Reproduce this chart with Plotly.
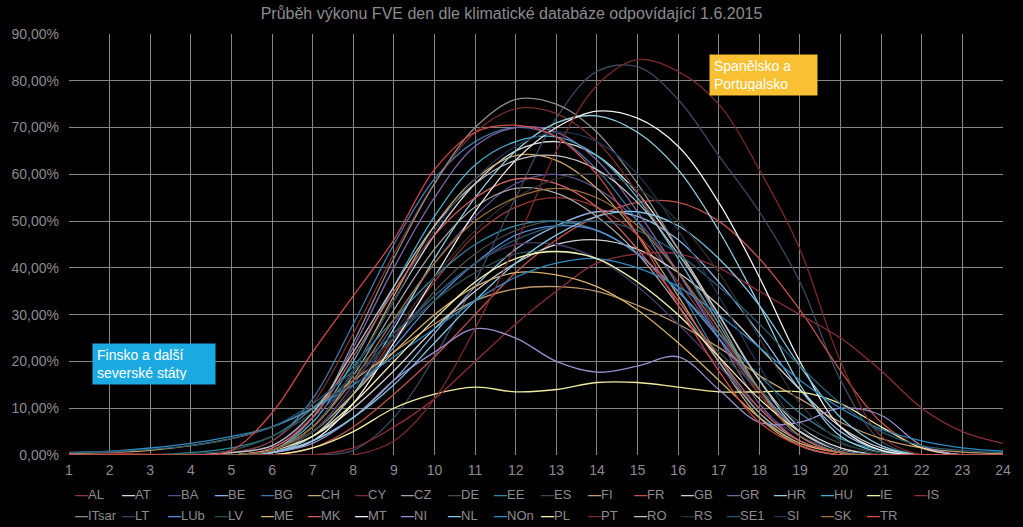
import plotly.graph_objects as go

hours = list(range(1, 25))

names = ["AL", "AT", "BA", "BE", "BG", "CH", "CY", "CZ", "DE", "EE", "ES", "FI", "FR",
         "GB", "GR", "HR", "HU", "IE", "IS", "ITsar", "LT", "LUb", "LV", "ME", "MK",
         "MT", "NI", "NL", "NOn", "PL", "PT", "RO", "RS", "SE1", "SI", "SK", "TR"]

# hourly output in % of installed power (hours 1..24)
AL = [0,0,0,0,0,0.5,4,13,25,37,47,53,55,53,47,37,25,13,5,1,0,0,0,0]
AT = [0,0,0,0,0,1,6,18,33,47,58,65,67,64,56,44,30,16,6,1.5,0,0,0,0]
BA = [0,0,0,0,0,0.5,5,15,28,41,51,58,60,57,50,39,26,14,5,1,0,0,0,0]
BE = [0,0,0,0,0,0.5,3,8,16,26,36,44,49,52,51,46,37,26,14,5,1,0,0,0]
BG = [0,0,0,0,0.5,3,12,28,45,59,67,70,68,61,50,36,21,9,2,0,0,0,0,0]
CH = [0,0,0,0,0,1,6,18,34,49,59,64,63,57,47,34,20,8,2,0,0,0,0,0]
CY = [0,0,0,0,0.5,3,11,26,43,58,69,74,73,67,56,42,27,13,4,0.5,0,0,0,0]
CZ = [0,0,0,0,0,1,6,17,31,44,53,57,56,51,43,32,20,9,3,0.5,0,0,0,0]
DE = [0,0,0,0,0,1,5,13,24,35,43,48,50,48,43,35,25,14,5,1,0,0,0,0]
EE = [0,0,0,0.5,1.5,4,10,19,29,38,45,49,50,48,43,35,26,17,9,3.5,1,0,0,0]
ES = [0,0,0,0,0,0,0,1,8,21,37,55,72,82,83,76,64,52,37,16,3,0,0,0]
FI = [0.3,0.5,1,2,3.5,6,10,16,22,28,33,35.5,36,35,32,28,23,17,12,7,3.5,1.5,0.6,0.3]
FR = [0,0,0,0,0,0,1.5,6,13,21,30,39,46,51,54,54,50,42,31,18,7,1.5,0,0]
GB = [0,0,0,0,0,1,4,10,18,27,35,41,45,46,44,39,32,23,14,6,1.5,0,0,0]
GR = [0,0,0,0,0,1.5,8,23,40,55,66,70,69,63,52,39,25,11,3,0.5,0,0,0,0]
HR = [0,0,0,0,0,0.5,4,13,27,42,55,65,71,72.5,69,61,48,32,15,4,0.5,0,0,0]
HU = [0,0,0,0,0,1,7,20,36,51,62,67,68,64,55,42,28,14,4,0.5,0,0,0,0]
IE = [0,0,0,0,0,0,1.5,5,10,13,14.5,13.5,14,15.5,15.5,14.5,13.5,13.5,13.5,11,6,1.5,0,0]
IS = [0.6,0.4,0.2,0,0,0,0,1.5,6,12,20,28,35,41,43,43,40,35,30,25,18,10,5,2.5]
ITsar = [0,0,0,0,0,1,8,24,42,58,70,76,75,69,58,44,29,14,4,0.5,0,0,0,0]
LT = [0,0,0,0,0.5,2,8,16,25,34,41,45,45,42,36,28,19,10,4,1,0,0,0,0]
LUb = [0,0,0,0,0,1,5,13,23,33,41,47,49,48,43,35,25,14,5,1,0,0,0,0]
LV = [0,0,0,0.3,1,4,9,17,25,33,39,43,43.5,42,37,30,22,14,7,2.5,0.5,0,0,0]
ME = [0,0,0,0,0,1,5,13,22,30,36,39,38.5,36,31,24,16,8,2.5,0.5,0,0,0,0]
MK = [0,0,0,0,0,1.5,8,21,35,47,55,59,58,53,44,33,21,10,3,0.5,0,0,0,0]
MT = [0,0,0,0,0,0.5,3,11,24,38,52,63,70,73.5,72,66,54,38,20,6,1,0,0,0]
NI = [0,0,0,0,0,0.5,2.5,8,16,22,27,25,20,17.7,19,21,14,7,7,10,8.5,2,0,0]
NL = [0,0,0,0,0,0.5,3,8,15,24,33,41,47,51,52,49,42,32,19,8,2,0,0,0]
NOn = [0.5,0.8,1.5,2.5,4,6,10,15,21,27,33,38,41,42,40,36,30,23,16,10,5.5,3,1.5,0.8]
PL = [0,0,0,0,0,1,4,11,20,29,37,42,43.5,42,37,30,21,12,5,1,0,0,0,0]
PT = [0,0,0,0,0,0,0,0,3,12,27,45,65,79,84.5,82,75,61,44,20,4,0,0,0]
RO = [0,0,0,0,0.5,2,9,22,36,49,58,63,64,61,54,43,30,16,5,1,0,0,0,0]
RS = [0,0,0,0,0,1,5,14,26,38,48,55,59,60,57,50,39,25,11,3,0,0,0,0]
SE1 = [0.5,0.7,1.2,2,3.5,6,11,18,26,34,41,46,49,50,48,43,36,28,19,11,5,2,1,0.5]
SI = [0,0,0,0,0,1,6,18,33,48,59,66,69,67,60,48,34,19,6,1,0,0,0,0]
SK = [0,0,0,0,0,1,6,16,29,41,50,55,57,55,49,39,27,14,4,0.5,0,0,0,0]
TR = [0,0,0,0,1,9,22,34,46,61,69,70.5,68,60,47,32,18,7,2,0,0,0,0,0]

colors = ["#953735", "#d9d9d9", "#5a4e8c", "#8db4e2", "#3f78a8", "#c4a46a", "#7a2e2e",
          "#a6a6a6", "#4a4a4a", "#31859c", "#3b4a5e", "#c09a6b", "#c0504d", "#d0d0d0",
          "#8064a2", "#93cddd", "#4bacc6", "#eeeca1", "#8b2d3a", "#8c8c8c", "#4a3b66",
          "#558ed5", "#2f4f4f", "#d4b06a", "#d06060", "#f2f2f2", "#9b8dc9", "#7fc4e0",
          "#2e8bc0", "#f5f0b0", "#7a2a2a", "#bfbfbf", "#303030", "#2a5a70", "#1f3550",
          "#a0703a", "#d04848"]

values = [AL, AT, BA, BE, BG, CH, CY, CZ, DE, EE, ES, FI, FR, GB, GR, HR, HU, IE, IS,
          ITsar, LT, LUb, LV, ME, MK, MT, NI, NL, NOn, PL, PT, RO, RS, SE1, SI, SK, TR]

FONT = "Liberation Sans, Arial, sans-serif"
GREY = "#8c8c8c"

fig = go.Figure()
for name, vals, col in zip(names, values, colors):
    fig.add_trace(go.Scatter(
        x=hours, y=[v / 100 for v in vals], name=name, mode="lines",
        line=dict(color=col, width=1.3, shape="spline", smoothing=1),
        showlegend=False))

# custom legend (two rows, like the original)
per_row = 19
for i, (name, col) in enumerate(zip(names, colors)):
    row = i // per_row
    col_i = i % per_row
    fig.add_annotation(
        xref="paper", yref="paper", x=0, y=0, xanchor="left", yanchor="middle",
        xshift=4 + 46.6 * col_i, yshift=-39 - 21 * row,
        text=f"<span style='color:{col}'><b>—</b></span>{name}",
        showarrow=False, font=dict(family=FONT, size=13, color=GREY))

fig.add_annotation(
    x=1.56, y=0.239, xref="x", yref="y", xanchor="left", yanchor="top",
    text="Finsko a další<br>severské státy", showarrow=False, align="left",
    width=114, height=32, borderpad=4, bgcolor="#1ba9e1",
    font=dict(family=FONT, size=14, color="white"))
fig.add_annotation(
    x=16.75, y=0.857, xref="x", yref="y", xanchor="left", yanchor="top",
    text="Španělsko a<br>Portugalsko", showarrow=False, align="left",
    width=99, height=32, borderpad=4, bgcolor="#f8c032",
    font=dict(family=FONT, size=14, color="white"))

fig.update_layout(
    width=1023, height=527,
    margin=dict(l=67, r=13, t=34, b=72),
    paper_bgcolor="black", plot_bgcolor="black",
    separators=", ",
    title=dict(text="Průběh výkonu FVE den dle klimatické databáze odpovídající 1.6.2015",
               x=0.5, xanchor="center", y=0.975, yanchor="middle",
               font=dict(family=FONT, size=16, color=GREY)),
    font=dict(family=FONT, size=14, color=GREY),
    xaxis=dict(range=[1, 24], dtick=1, tick0=1, showgrid=True, gridcolor="#858585",
               gridwidth=1, zeroline=False, showline=False, ticks="",
               ticklabelstandoff=5,
               tickfont=dict(family=FONT, size=14, color=GREY)),
    yaxis=dict(range=[0, 0.9], dtick=0.1, tickformat=".2%", showgrid=True,
               gridcolor="#858585", gridwidth=1, zeroline=False, showline=False,
               ticks="", ticklabelstandoff=9,
               tickfont=dict(family=FONT, size=14, color=GREY)),
)

fig.write_html("out.html")
